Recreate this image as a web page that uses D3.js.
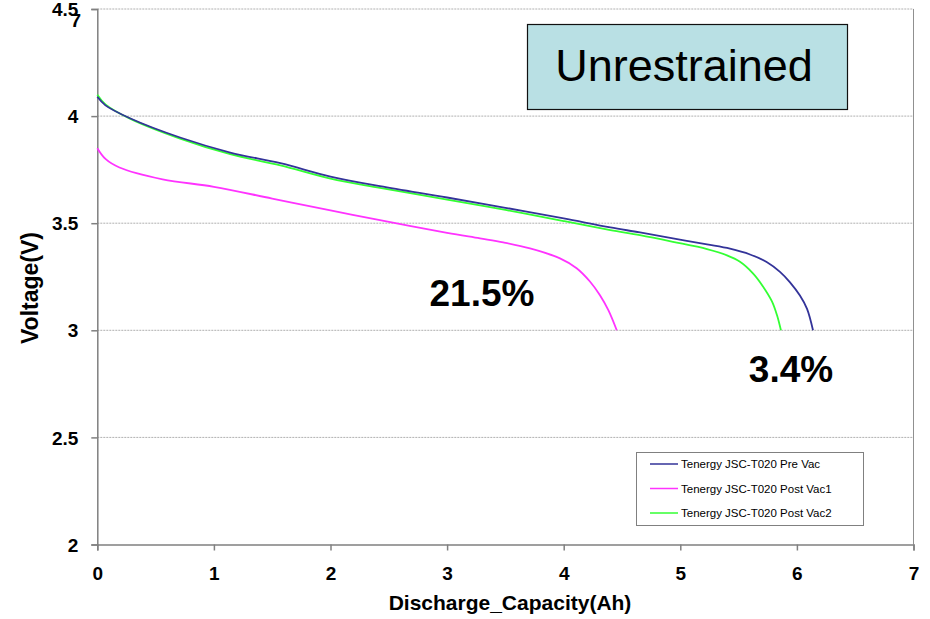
<!DOCTYPE html>
<html><head><meta charset="utf-8">
<script src="https://cdn.jsdelivr.net/npm/d3@7"></script>
<style>body{margin:0;background:#fff}svg{display:block}text{font-family:Arial,"Liberation Sans",sans-serif}</style>
</head><body><svg id="c" width="930" height="619"></svg>
<script>
const seriesNames = ["Tenergy JSC-T020 Pre Vac","Tenergy JSC-T020 Post Vac1","Tenergy JSC-T020 Post Vac2"];
const preVac = [[0,4.09],[0.07,4.05],[0.28,3.99],[0.71,3.90],[1.14,3.83],[1.57,3.78],[2,3.718],[2.424,3.673],[3,3.62],[3.5,3.572],[4,3.522],[4.4,3.48],[4.654,3.457],[4.937,3.429],[5.229,3.401],[5.426,3.381],[5.598,3.354],[5.744,3.318],[5.855,3.273],[5.941,3.224],[6.026,3.162],[6.087,3.1],[6.138,3.0]];
const postVac1 = [[0,3.85],[0.07,3.80],[0.19,3.76],[0.56,3.705],[1,3.67],[1.5,3.615],[2,3.56],[2.424,3.514],[3,3.455],[3.282,3.429],[3.482,3.41],[3.711,3.382],[3.968,3.336],[4.111,3.29],[4.225,3.228],[4.311,3.164],[4.383,3.094],[4.455,3.0]];
const postVac2 = [[0,4.10],[0.07,4.055],[0.28,3.988],[0.71,3.895],[1.14,3.822],[1.57,3.77],[2,3.708],[2.424,3.665],[3,3.61],[3.5,3.562],[4,3.51],[4.4,3.468],[4.654,3.444],[4.937,3.413],[5.229,3.379],[5.4,3.35],[5.512,3.32],[5.623,3.266],[5.709,3.205],[5.786,3.135],[5.829,3.071],[5.863,3.0]];
const xTicks = [0,1,2,3,4,5,6,7];
const yTicks = [2,2.5,3,3.5,4,4.5];
const colors = ["#333399","#ff33ff","#33ff33"];

const svg = d3.select("#c");
const x = d3.scaleLinear().domain([0,7]).range([97.3,913.5]);
const y = d3.scaleLinear().domain([2,4.5]).range([544.5,9]);

// gridlines
svg.append("g").selectAll("line").data(yTicks.filter(d=>d>2)).join("line")
  .attr("x1",x(0)).attr("x2",x(7)).attr("y1",d=>y(d)).attr("y2",d=>y(d))
  .attr("stroke","#b0b0b0").attr("stroke-width",1).attr("stroke-dasharray","2,1");
// right border
svg.append("line").attr("x1",x(7)).attr("x2",x(7)).attr("y1",y(4.5)).attr("y2",y(2))
  .attr("stroke","#909090");

// axes
const xa = svg.append("g").attr("transform",`translate(0,${y(2)})`)
  .call(d3.axisBottom(x).tickValues(xTicks).tickSize(6).tickPadding(16).tickFormat(d3.format("d")));
const ya = svg.append("g").attr("transform",`translate(${x(0)},0)`)
  .call(d3.axisLeft(y).tickValues(yTicks).tickSize(6).tickPadding(13).tickFormat(d=>String(d)));
[xa,ya].forEach(a=>{
  a.selectAll("path,line").attr("stroke","#808080").attr("stroke-width",1.5);
  a.selectAll("text").attr("font-family","Arial, 'Liberation Sans', sans-serif").attr("font-size",19).attr("font-weight","bold").attr("fill","#000");
});
ya.selectAll("text").attr("dy","0.35em");
// stray "7" artifact near 4.5 label (present in the reference)
svg.append("text").attr("x",81).attr("y",27).attr("text-anchor","end").attr("font-size",19).attr("font-weight","bold").text("7");

// lines
const line = d3.line().x(d=>x(d[0])).y(d=>y(d[1])).curve(d3.curveCatmullRom.alpha(0.5));
const data = [preVac,postVac1,postVac2];
svg.append("g").selectAll("path").data([2,1,0]).join("path")
  .attr("d",i=>line(data[i])).attr("fill","none").attr("stroke",i=>colors[i]).attr("stroke-width",1.8);

// axis titles
svg.append("text").attr("x",510).attr("y",610).attr("text-anchor","middle").attr("font-size",21).attr("font-weight","bold").text("Discharge_Capacity(Ah)");
svg.append("text").attr("transform","translate(38,288) rotate(-90)").attr("text-anchor","middle").attr("font-size",23).attr("font-weight","bold").text("Voltage(V)");

// title box
svg.append("rect").attr("x",527.5).attr("y",24.5).attr("width",320).attr("height",85).attr("fill","#b9e0e4").attr("stroke","#111").attr("stroke-width",1.2);
svg.append("text").attr("x",684).attr("y",81).attr("text-anchor","middle").attr("font-size",45).text("Unrestrained");

// annotations
svg.append("text").attr("x",482).attr("y",306).attr("text-anchor","middle").attr("font-size",37).attr("font-weight","bold").text("21.5%");
svg.append("text").attr("x",791).attr("y",382).attr("text-anchor","middle").attr("font-size",37).attr("font-weight","bold").text("3.4%");

// legend
const lg = svg.append("g");
lg.append("rect").attr("x",636.5).attr("y",452.5).attr("width",227).attr("height",73).attr("fill","#fff").attr("stroke","#808080");
const rows = lg.selectAll("g").data(seriesNames).join("g").attr("transform",(d,i)=>`translate(0,${464+i*24.5})`);
rows.append("line").attr("x1",650).attr("x2",678).attr("stroke",(d,i)=>colors[i]).attr("stroke-width",1.5);
rows.append("text").attr("x",681).attr("dy","0.35em").attr("font-size",11.5).text(d=>d);
</script></body></html>
